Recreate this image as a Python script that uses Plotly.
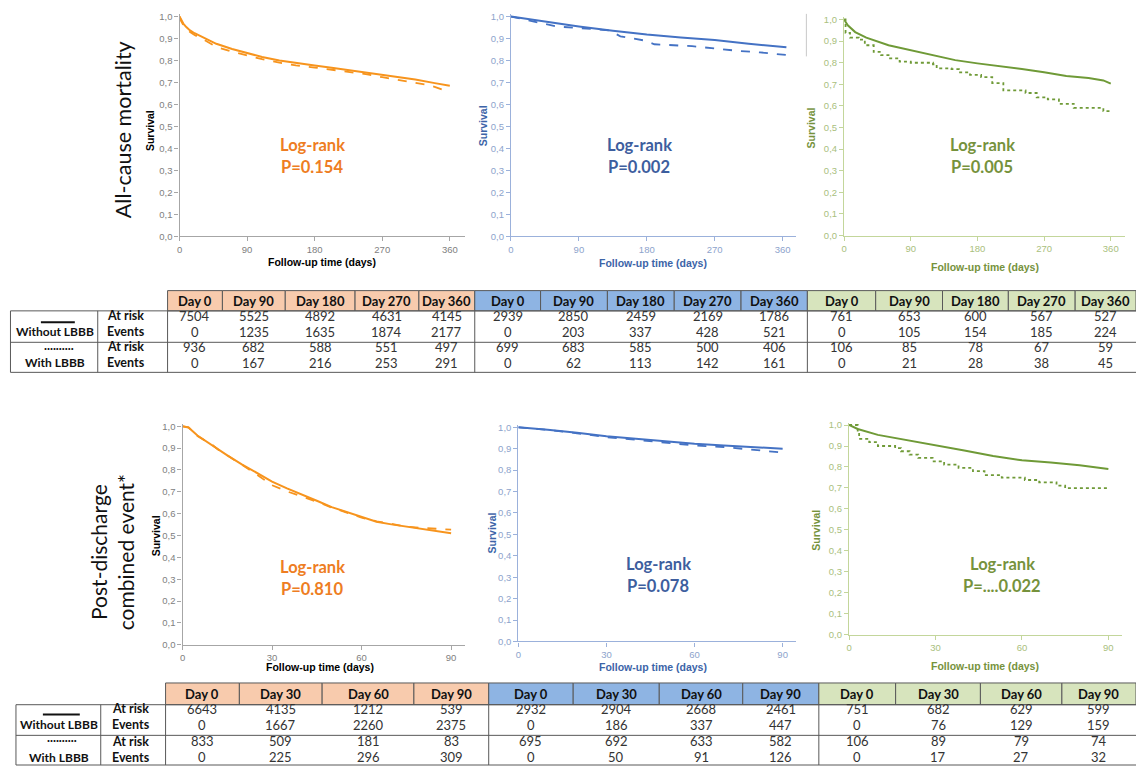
import plotly.graph_objects as go

W, H = 1136, 770

# ---------------- DATA ----------------
# Top row: all-cause mortality (days 0-360)
a1_t_wo = [0, 2, 5, 9, 14, 20, 31, 49, 70, 90, 110, 133, 155, 180, 205, 226, 250, 270, 295, 314, 340, 360]
a1_s_wo = [1.0, 0.985, 0.968, 0.952, 0.937, 0.924, 0.907, 0.876, 0.852, 0.834, 0.816, 0.800, 0.788, 0.777, 0.766, 0.756, 0.745, 0.736, 0.724, 0.713, 0.697, 0.685]
a1_t_w = [0, 2, 5, 9, 14, 20, 31, 49, 70, 90, 110, 133, 155, 180, 205, 226, 250, 270, 295, 314, 335, 350, 360]
a1_s_w = [1.0, 0.980, 0.962, 0.945, 0.930, 0.916, 0.897, 0.862, 0.840, 0.822, 0.806, 0.790, 0.778, 0.768, 0.757, 0.748, 0.737, 0.724, 0.710, 0.700, 0.686, 0.668, 0.662]

a2_t_wo = [0, 45, 90, 135, 180, 225, 270, 315, 365]
a2_s_wo = [1.0, 0.977, 0.955, 0.935, 0.918, 0.905, 0.893, 0.876, 0.860]
a2_t_w = [0, 40, 60, 100, 130, 145, 175, 190, 240, 270, 300, 330, 350, 365]
a2_s_w = [1.0, 0.970, 0.955, 0.945, 0.937, 0.910, 0.892, 0.874, 0.865, 0.855, 0.844, 0.837, 0.829, 0.825]

a3_t_wo = [0, 5, 15, 30, 60, 90, 120, 150, 180, 210, 240, 270, 300, 330, 350, 360]
a3_s_wo = [1.0, 0.973, 0.942, 0.916, 0.881, 0.858, 0.832, 0.812, 0.797, 0.785, 0.771, 0.756, 0.739, 0.729, 0.718, 0.703]
a3_t_w = [0, 2, 8, 20, 28, 40, 50, 60, 75, 90, 120, 125, 145, 155, 170, 185, 200, 215, 245, 260, 275, 290, 310, 350, 360]
a3_s_w = [1.0, 0.938, 0.916, 0.907, 0.881, 0.850, 0.835, 0.820, 0.805, 0.800, 0.793, 0.774, 0.770, 0.755, 0.744, 0.733, 0.706, 0.672, 0.660, 0.640, 0.630, 0.610, 0.591, 0.576, 0.573]

# Bottom row: post-discharge combined event (days 0-90)
b1_t_wo = [0, 2, 5, 10, 15, 20, 25, 30, 35, 40, 45, 50, 55, 60, 65, 70, 75, 80, 85, 90]
b1_s_wo = [1.0, 0.995, 0.958, 0.912, 0.867, 0.825, 0.784, 0.747, 0.716, 0.689, 0.659, 0.630, 0.608, 0.584, 0.563, 0.551, 0.540, 0.532, 0.520, 0.510]
b1_t_w = [0, 2, 5, 10, 12, 15, 20, 25, 30, 35, 40, 45, 50, 55, 60, 65, 70, 75, 80, 85, 90]
b1_s_w = [1.0, 0.995, 0.955, 0.915, 0.893, 0.868, 0.823, 0.778, 0.730, 0.702, 0.680, 0.655, 0.628, 0.605, 0.582, 0.565, 0.552, 0.541, 0.535, 0.530, 0.527]

b2_t_wo = [0, 10, 20, 30, 40, 50, 60, 70, 80, 90]
b2_s_wo = [1.0, 0.989, 0.974, 0.958, 0.946, 0.934, 0.923, 0.915, 0.908, 0.900]
b2_t_w = [0, 10, 20, 30, 40, 50, 60, 70, 80, 90]
b2_s_w = [1.0, 0.988, 0.972, 0.954, 0.942, 0.928, 0.915, 0.908, 0.895, 0.882]

b3_t_wo = [0, 3, 10, 20, 30, 40, 50, 60, 70, 80, 90]
b3_s_wo = [1.0, 0.981, 0.953, 0.929, 0.903, 0.879, 0.852, 0.832, 0.821, 0.808, 0.790]
b3_t_w = [0, 3, 3.5, 7, 10, 16, 18, 21, 24, 29, 33, 38, 43, 47, 53, 61, 66, 72, 75, 90]
b3_s_w = [1.0, 0.965, 0.934, 0.918, 0.900, 0.890, 0.875, 0.859, 0.843, 0.827, 0.811, 0.796, 0.780, 0.761, 0.749, 0.738, 0.727, 0.711, 0.699, 0.699]

p_values = ["P=0.154", "P=0.002", "P=0.005", "P=0.810", "P=0.078", "P=....0.022"]
row_titles = ["All-cause mortality", "Post-discharge<br>combined event*"]

top_days = ["Day 0", "Day 90", "Day 180", "Day 270", "Day 360"]
top_orange = [[7504, 5525, 4892, 4631, 4145], [0, 1235, 1635, 1874, 2177],
              [936, 682, 588, 551, 497], [0, 167, 216, 253, 291]]
top_blue = [[2939, 2850, 2459, 2169, 1786], [0, 203, 337, 428, 521],
            [699, 683, 585, 500, 406], [0, 62, 113, 142, 161]]
top_green = [[761, 653, 600, 567, 527], [0, 105, 154, 185, 224],
             [106, 85, 78, 67, 59], [0, 21, 28, 38, 45]]

bot_days = ["Day 0", "Day 30", "Day 60", "Day 90"]
bot_orange = [[6643, 4135, 1212, 539], [0, 1667, 2260, 2375],
              [833, 509, 181, 83], [0, 225, 296, 309]]
bot_blue = [[2932, 2904, 2668, 2461], [0, 186, 337, 447],
            [695, 692, 633, 582], [0, 50, 91, 126]]
bot_green = [[751, 682, 629, 599], [0, 76, 129, 159],
             [106, 89, 79, 74], [0, 17, 27, 32]]

row_labels = ["At risk", "Events", "At risk", "Events"]
group_labels = ["Without LBBB", "With LBBB"]

# ---------------- STYLE ----------------
ORANGE = "#F7941D"
BLUE = "#4472C4"
GREEN = "#6F9A37"
TXT = {"o": "#EE7D22", "b": "#3D5E9E", "g": "#76923C"}
AXLINE = {"o": "#A6A6A6", "b": "#9BB1DB", "g": "#C3D69B"}
TICKC = {"o": "#808080", "b": "#8DA3CC", "g": "#A9C07D"}
TITLEC = {"o": "#000000", "b": "#3C64A8", "g": "#76923C"}
LINEC = {"o": ORANGE, "b": BLUE, "g": GREEN}
HDR = {"o": "#F8CBAD", "b": "#8EB4E3", "g": "#D7E4BD"}
FONT = "Lato, 'Open Sans', sans-serif"
AFONT = "Liberation Sans, Arial, sans-serif"

def X(p):
    return p / W

def Y(p):
    return 1 - p / H

fig = go.Figure()
shapes = []
annots = []

def add_text(x, y, s, size, color, angle=0, family=FONT, xanchor="center"):
    annots.append(dict(xref="paper", yref="paper", x=X(x), y=Y(y), text=s, showarrow=False,
                       xanchor=xanchor, yanchor="middle", textangle=angle,
                       font=dict(size=size, color=color, family=family)))

def add_line(x0, y0, x1, y1, color="#595959", width=1, dash=None):
    shapes.append(dict(type="line", xref="paper", yref="paper", x0=X(x0), y0=Y(y0), x1=X(x1), y1=Y(y1),
                       line=dict(color=color, width=width, dash=dash)))

def add_rect(x0, y0, x1, y1, fill, color="#595959", width=1):
    shapes.append(dict(type="rect", xref="paper", yref="paper", x0=X(x0), y0=Y(y0), x1=X(x1), y1=Y(y1),
                       fillcolor=fill, line=dict(color=color, width=width), layer="below"))

# panel geometry in pixels: x0, x at tmax, tmax, axis end, y0 (value 0), y1 (value 1)
panels = [
    dict(c="o", geo=(177, 448, 360, 463, 235, 12.7), data=(a1_t_wo, a1_s_wo, a1_t_w, a1_s_w), dash="dash", shape="linear",
         lr=(310, 143), surv=(147, 128), fu=(320, 261)),
    dict(c="b", geo=(509.3, 781.7, 360, 795, 235, 12.7), data=(a2_t_wo, a2_s_wo, a2_t_w, a2_s_w), dash="dash", shape="linear",
         lr=(638, 143), surv=(481, 123), fu=(652, 262)),
    dict(c="g", geo=(843.3, 1110.7, 360, 1125, 234.3, 15.7), data=(a3_t_wo, a3_s_wo, a3_t_w, a3_s_w), dash="dot", shape="hv",
         lr=(982, 143), surv=(810, 125), fu=(985, 266)),
    dict(c="o", geo=(180, 449.3, 90, 463, 648.3, 427.3), data=(b1_t_wo, b1_s_wo, b1_t_w, b1_s_w), dash="dash", shape="linear",
         lr=(310, 570), surv=(153, 538), fu=(318, 671)),
    dict(c="b", geo=(516.7, 781.7, 90, 795, 645, 428.3), data=(b2_t_wo, b2_s_wo, b2_t_w, b2_s_w), dash="dash", shape="linear",
         lr=(657, 567), surv=(490, 535), fu=(652, 671)),
    dict(c="g", geo=(848.3, 1108.3, 90, 1121.7, 638.3, 426), data=(b3_t_wo, b3_s_wo, b3_t_w, b3_s_w), dash="dot", shape="hv",
         lr=(1002, 567), surv=(815, 532), fu=(985, 670)),
]

layout_axes = {}
for i, p in enumerate(panels):
    k = "" if i == 0 else str(i + 1)
    c = p["c"]
    x0, xT, tmax, xe, y0, y1 = p["geo"]
    ytop = y0 - 1.01 * (y0 - y1)
    xr = tmax * (xe - x0) / (xT - x0)
    tw, sw, tl, sl = p["data"]
    fig.add_trace(go.Scatter(x=tw, y=sw, mode="lines", line=dict(color=LINEC[c], width=2, shape="linear"),
                             xaxis="x" + k, yaxis="y" + k, showlegend=False, hoverinfo="skip"))
    fig.add_trace(go.Scatter(x=tl, y=sl, mode="lines", line=dict(color=LINEC[c], width=1.8, dash=p["dash"], shape=p["shape"]),
                             xaxis="x" + k, yaxis="y" + k, showlegend=False, hoverinfo="skip"))
    tv = [0, 90, 180, 270, 360] if tmax == 360 else [0, 30, 60, 90]
    layout_axes["xaxis" + k] = dict(domain=[X(x0), X(xe)], range=[0, xr], anchor="y" + k,
                                    showline=True, linecolor=AXLINE[c], linewidth=1.2,
                                    ticks="outside", ticklen=4, tickcolor=AXLINE[c], tickvals=tv,
                                    tickfont=dict(size=9.5, color=TICKC[c], family=AFONT),
                                    showgrid=False, zeroline=False, fixedrange=True)
    layout_axes["yaxis" + k] = dict(domain=[Y(y0), Y(ytop)], range=[0, 1.01], anchor="x" + k,
                                    showline=True, linecolor=AXLINE[c], linewidth=1.2,
                                    ticks="outside", ticklen=4, tickcolor=AXLINE[c],
                                    tickvals=[j / 10 for j in range(11)], tickformat=".1f",
                                    tickfont=dict(size=9.5, color=TICKC[c], family=AFONT),
                                    showgrid=False, zeroline=False, fixedrange=True)
    lx, ly = p["lr"]
    add_text(lx, ly, "<b>Log-rank</b>", 16.5, TXT[c])
    add_text(lx, ly + 22, "<b>" + p_values[i] + "</b>", 16.5, TXT[c])
    sx, sy = p["surv"]
    add_text(sx, sy, "<b>Survival</b>", 10.5, TITLEC[c], angle=-90, family=AFONT)
    fx, fy = p["fu"]
    add_text(fx, fy, "<b>Follow-up time (days)</b>", 10.5, TITLEC[c], family=AFONT)

# small artefacts of the original composite
add_rect(505, 87, 513, 94, "white", color="white", width=0)
add_line(805.5, 10, 805.5, 53, color="#C8C8C8", width=1)

# row titles
add_text(120, 127, row_titles[0], 21.5, "#111111", angle=-90, family=FONT)
add_text(109, 555, row_titles[1], 21, "#111111", angle=-90, family=FONT)

# ---------------- TABLES ----------------
def draw_table(days, groups, hdr_top, hdr_bot, mid, bot, col_edges, left, div, start, row_y,
               lab_x, risk_x, solid_y, dot_y, line_x):
    colors = ["o", "b", "g"]
    for g, (vals, edges) in enumerate(zip(groups, col_edges)):
        c = colors[g]
        for j, d in enumerate(days):
            xa, xb = edges[j], edges[j + 1]
            add_rect(xa, hdr_top, xb, hdr_bot, HDR[c])
            add_text((xa + xb) / 2, (hdr_top + hdr_bot) / 2 + 0.5, "<b>" + d + "</b>", 13, "#111111")
            for r in range(4):
                add_text((xa + xb) / 2, row_y[r], str(vals[r][j]), 13, "#333333")
    right = col_edges[-1][-1]
    for yy in (hdr_bot, mid, bot):
        add_line(left, yy, right, yy, color="#595959", width=1)
    for xx in [left, div, start, col_edges[1][0], col_edges[2][0]]:
        add_line(xx, hdr_bot, xx, bot, color="#595959", width=1)
    for r in range(4):
        add_text(risk_x, row_y[r], "<b>" + row_labels[r] + "</b>", 12.5, "#111111")
    add_text(lab_x, row_y[1], "<b>" + group_labels[0] + "</b>", 12, "#111111")
    add_text(lab_x, row_y[3], "<b>" + group_labels[1] + "</b>", 12, "#111111")
    add_line(line_x[0], solid_y, line_x[1], solid_y, color="#111111", width=2)
    add_text((line_x[0] + line_x[1]) / 2 + 1, dot_y, "<b>..........</b>", 12.5, "#111111")

draw_table(top_days, [top_orange, top_blue, top_green], 290, 310.5, 342.3, 372.7,
           [[165, 220, 283, 353, 417, 473], [473, 539, 606, 673, 740, 806.5], [806.5, 875, 942, 1008, 1075, 1136]],
           7.5, 95, 165, [315.5, 331.5, 347, 363], 52, 123, 322, 346, (38, 72))

draw_table(bot_days, [bot_orange, bot_blue, bot_green], 687, 709, 740, 770,
           [[163, 237, 320, 412, 487], [487, 571.7, 658, 741.7, 818], [818, 895, 980, 1061.7, 1136]],
           13, 98, 163, [713, 729.5, 746, 762], 56, 128, 719, 742, (40, 77))

fig.update_layout(width=W, height=H, margin=dict(l=0, r=0, t=0, b=0),
                  paper_bgcolor="white", plot_bgcolor="white", separators=", ",
                  shapes=shapes, annotations=annots, showlegend=False, **layout_axes)

fig.write_html("out.html", config={"displayModeBar": False},
               post_script="document.body.style.margin='0px';document.body.style.overflow='hidden';")
